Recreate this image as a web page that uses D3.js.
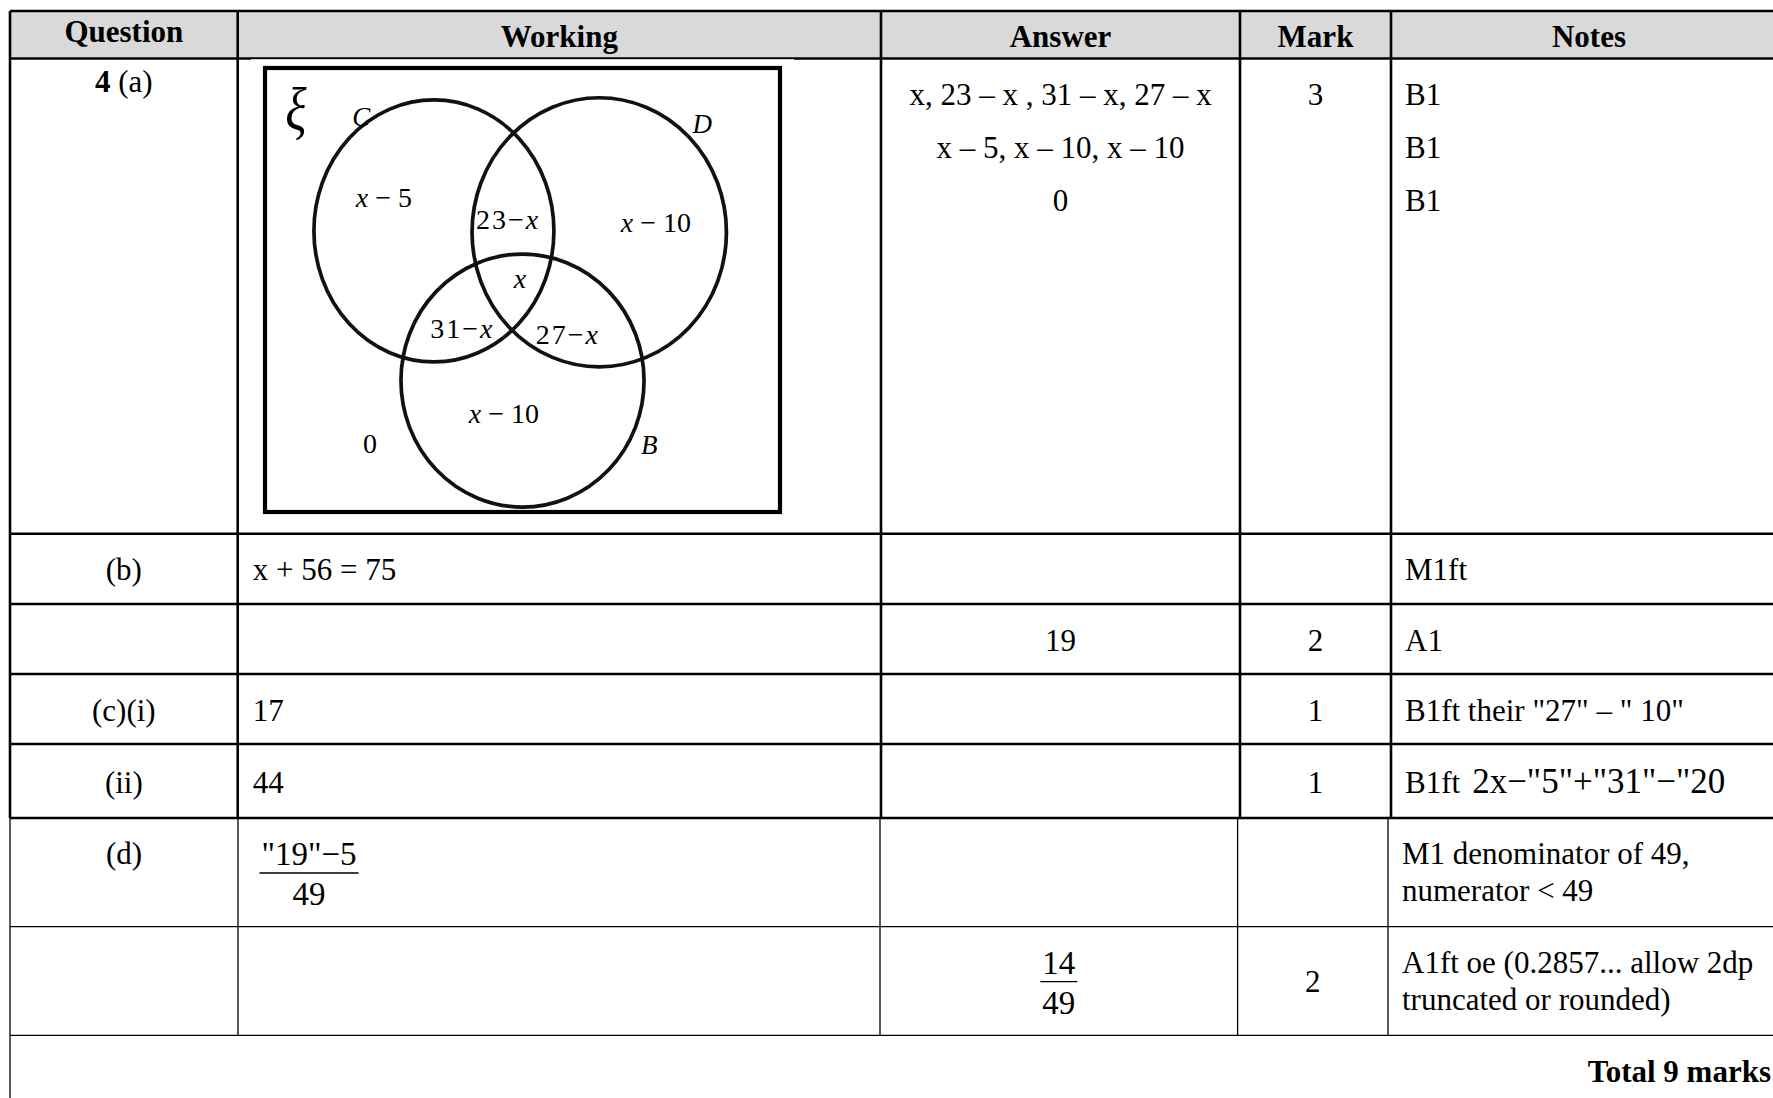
<!DOCTYPE html>
<html>
<head>
<meta charset="utf-8">
<script src="https://cdn.jsdelivr.net/npm/d3@7"></script>
<style>
  body { margin: 0; background: #fff; }
  svg { display: block; }
  text { font-family: "Liberation Serif", "Times New Roman", serif; fill: #000; }
</style>
</head>
<body>
<svg id="chart"></svg>
<script>
// table content
var columns = ["Question", "Working", "Answer", "Mark", "Notes"];
var questions = ["4|(a)", "(b)", "", "(c)(i)", "(ii)", "(d)", ""];
var workings = ["", "x + 56 = 75", "", "17", "44", "\"19\"−5/49", ""];
var answers = [["x, 23 – x , 31 – x, 27 – x", "x – 5, x – 10, x – 10", "0"], [], ["19"], [], [], [], ["14/49"]];
var marks = ["3", "", "2", "1", "1", "", "2"];
var notes = [["B1", "B1", "B1"], ["M1ft"], ["A1"], ["B1ft their \"27\" – \" 10\""],
             ["B1ft|2x−\"5\"+\"31\"−\"20"], ["M1 denominator of 49,", "numerator < 49"],
             ["A1ft oe (0.2857... allow 2dp", "truncated or rounded)"]];
var totalText = "Total 9 marks";

// venn diagram content
var universe = "ξ";
var vennSets = ["C", "D", "B"];
var vennRegions = ["x − 5", "23−x", "x − 10", "x", "31−x", "27−x", "x − 10", "0"];

var width = 1773, height = 1098;
var fs = 31;

// layout
var colTop = [10, 237.7, 881, 1240, 1391, 1787];
var colBottom = [10, 238, 880, 1237.6, 1388, 1787];
var rowEdges = [11, 58.5, 533.7, 604, 674, 744, 818, 926.6, 1035.3];
var rowLayout = [
  {q: 23, first: 36, step: 53, mark: 36},
  {center: true}, {center: true}, {center: true}, {center: true},
  {q: 35.6, first: 35.6, step: 36.8, frac: [35.6, 55, 76]},
  {first: 35.7, step: 36.9, frac: [35.7, 55, 76.3], markCenter: true}
];

var svg = d3.select('#chart')
            .attr('width', width)
            .attr('height', height);

// header background
svg.append('rect')
   .attr('x', colTop[0]).attr('y', rowEdges[0])
   .attr('width', width).attr('height', rowEdges[1] - rowEdges[0])
   .attr('fill', '#d9d9d9');

var grid = svg.append('g').attr('stroke', '#000');
// thick part: header to (ii)
rowEdges.slice(0, 7).forEach(function (y) {
  grid.append('line').attr('x1', colTop[0]).attr('x2', width + 10)
      .attr('y1', y).attr('y2', y).attr('stroke-width', 2.6);
});
colTop.slice(0, 5).forEach(function (x) {
  grid.append('line').attr('x1', x).attr('x2', x)
      .attr('y1', rowEdges[0]).attr('y2', rowEdges[6]).attr('stroke-width', 2.6);
});
// thin part
rowEdges.slice(7).forEach(function (y) {
  grid.append('line').attr('x1', colBottom[0]).attr('x2', width + 10)
      .attr('y1', y).attr('y2', y).attr('stroke-width', 1.3);
});
colBottom.slice(1, 5).forEach(function (x) {
  grid.append('line').attr('x1', x).attr('x2', x)
      .attr('y1', rowEdges[6]).attr('y2', rowEdges[8]).attr('stroke-width', 1.3);
});
grid.append('line').attr('x1', colBottom[0]).attr('x2', colBottom[0])
    .attr('y1', rowEdges[6]).attr('y2', height + 5).attr('stroke-width', 1.3);

function colMid(cols, i) { return (cols[i] + cols[i + 1]) / 2; }

// header labels
svg.selectAll('.head')
   .data(columns)
   .enter()
   .append('text')
     .classed('head', true)
     .attr('x', (d, i) => colMid(colTop, i))
     .attr('y', (d, i) => i === 0 ? 31 : 36)
     .attr('dy', '0.34em')
     .attr('text-anchor', 'middle')
     .attr('font-weight', 'bold')
     .attr('font-size', fs)
     .text(d => d);

function fraction(x, top, lay, str, size) {
  var parts = str.split('/');
  var num = svg.append('text').attr('x', x).attr('y', top + lay[0]).attr('dy', '0.34em')
               .attr('text-anchor', 'middle').attr('font-size', size).text(parts[0]);
  var w = num.node().getComputedTextLength();
  svg.append('line').attr('x1', x - w / 2 - 2).attr('x2', x + w / 2 + 2)
     .attr('y1', top + lay[1]).attr('y2', top + lay[1])
     .attr('stroke', '#000').attr('stroke-width', 1.4);
  svg.append('text').attr('x', x).attr('y', top + lay[2]).attr('dy', '0.34em')
     .attr('text-anchor', 'middle').attr('font-size', size).text(parts[1]);
}

rowLayout.forEach(function (lay, r) {
  var top = rowEdges[r + 1], bottom = rowEdges[r + 2];
  var mid = (top + bottom) / 2 + 1;
  var cols = r < 5 ? colTop : colBottom;
  var lineY = function (k) { return lay.center ? mid : top + lay.first + k * lay.step; };

  // question
  if (questions[r]) {
    var q = svg.append('text').attr('x', colMid(cols, 0))
               .attr('y', lay.center ? mid : top + lay.q).attr('dy', '0.34em')
               .attr('text-anchor', 'middle').attr('font-size', fs);
    var qp = questions[r].split('|');
    if (qp.length > 1) {
      q.append('tspan').attr('font-weight', 'bold').text(qp[0] + ' ');
      q.append('tspan').text(qp[1]);
    } else {
      q.text(qp[0]);
    }
  }

  // working
  if (workings[r]) {
    if (workings[r].indexOf('/') >= 0) {
      fraction(309, top, lay.frac, workings[r], 33);
    } else {
      svg.append('text').attr('x', cols[1] + 15).attr('y', mid).attr('dy', '0.34em')
         .attr('font-size', fs).text(workings[r]);
    }
  }

  // answers
  answers[r].forEach(function (a, k) {
    if (a.indexOf('/') >= 0) {
      fraction(colMid(cols, 2), top, lay.frac, a, 33);
    } else {
      svg.append('text').attr('x', colMid(cols, 2)).attr('y', lineY(k)).attr('dy', '0.34em')
         .attr('text-anchor', 'middle').attr('font-size', fs).text(a);
    }
  });

  // marks
  if (marks[r]) {
    svg.append('text').attr('x', colMid(cols, 3))
       .attr('y', (lay.center || lay.markCenter) ? mid : top + lay.mark).attr('dy', '0.34em')
       .attr('text-anchor', 'middle').attr('font-size', fs).text(marks[r]);
  }

  // notes
  notes[r].forEach(function (n, k) {
    var t = svg.append('text').attr('x', cols[4] + 14).attr('y', lineY(k)).attr('dy', '0.34em')
               .attr('font-size', fs);
    var np = n.split('|');
    t.append('tspan').text(np[0]);
    if (np.length > 1) {
      t.append('tspan').attr('dx', 12).attr('font-size', 35).text(np[1]);
    }
  });
});

svg.append('text')
   .attr('x', 1771).attr('y', 1071).attr('dy', '0.34em')
   .attr('text-anchor', 'end').attr('font-weight', 'bold').attr('font-size', fs)
   .text(totalText);

// ---- venn diagram ----
var vennBox = {x0: 265, x1: 780, y0: 68, y1: 512};
var vx = d3.scaleLinear().domain([0, 100]).range([vennBox.x0, vennBox.x1]);
var vy = d3.scaleLinear().domain([0, 100]).range([vennBox.y0, vennBox.y1]);
var circleGeom = [
  {cx: 32.8, cy: 36.7, rx: 23.3, ry: 29.5},
  {cx: 64.9, cy: 37.0, rx: 24.7, ry: 30.3},
  {cx: 50.0, cy: 70.4, rx: 23.6, ry: 28.5}
];
var setLabelPos = [[18.7, 11.0], [84.9, 12.6], [74.6, 84.9]];
var regionPos = [[23.1, 29.2], [47.2, 34.2], [75.9, 34.9], [49.5, 47.5],
                 [38.3, 58.6], [58.8, 60.0], [46.4, 77.8], [20.4, 84.6]];

var venn = svg.append('g');
// picture background slightly covering the header rule
venn.append('rect')
    .attr('x', 251).attr('y', 59.2).attr('width', 543).attr('height', 470)
    .attr('fill', '#fff');
venn.append('rect')
    .attr('x', vx(0)).attr('y', vy(0))
    .attr('width', vx(100) - vx(0)).attr('height', vy(100) - vy(0))
    .attr('fill', 'none').attr('stroke', '#000').attr('stroke-width', 4.2);

venn.selectAll('.set')
    .data(circleGeom)
    .enter()
    .append('ellipse')
      .classed('set', true)
      .attr('cx', d => vx(d.cx)).attr('cy', d => vy(d.cy))
      .attr('rx', d => vx(d.rx) - vx(0)).attr('ry', d => vy(d.ry) - vy(0))
      .attr('fill', 'none').attr('stroke', '#111').attr('stroke-width', 3.7);

venn.append('text')
    .attr('x', vx(6.0)).attr('y', vy(9.2)).attr('dy', '0.34em')
    .attr('text-anchor', 'middle').attr('font-style', 'italic').attr('font-size', 62)
    .attr('transform', 'translate(' + vx(6.0) + ',0) scale(0.8,1) translate(' + (-vx(6.0)) + ',0)')
    .text(universe);

venn.selectAll('.setlabel')
    .data(vennSets)
    .enter()
    .append('text')
      .classed('setlabel', true)
      .attr('x', (d, i) => vx(setLabelPos[i][0])).attr('y', (d, i) => vy(setLabelPos[i][1]))
      .attr('dy', '0.34em').attr('text-anchor', 'middle')
      .attr('font-style', 'italic').attr('font-size', 27)
      .text(d => d);

venn.selectAll('.region')
    .data(vennRegions)
    .enter()
    .append('text')
      .classed('region', true)
      .attr('x', (d, i) => vx(regionPos[i][0])).attr('y', (d, i) => vy(regionPos[i][1]))
      .attr('dy', '0.34em').attr('text-anchor', 'middle').attr('font-size', 28)
      .attr('letter-spacing', d => d.indexOf(' ') < 0 && d.length > 1 ? 2 : 0)
      .each(function (d) {
        var t = d3.select(this);
        d.split(/(x)/).filter(s => s.length).forEach(function (s) {
          t.append('tspan').attr('font-style', s === 'x' ? 'italic' : null).text(s);
        });
      });
</script>
</body>
</html>
